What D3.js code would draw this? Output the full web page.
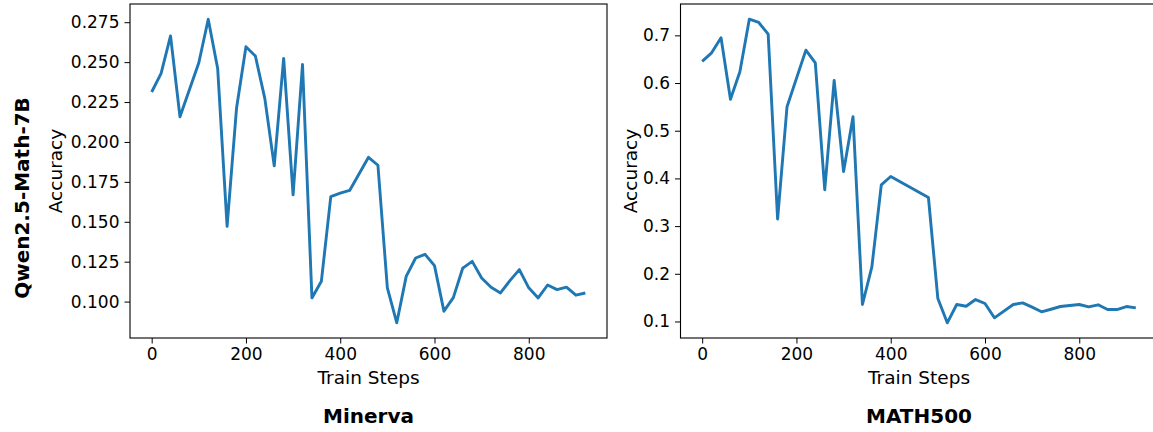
<!DOCTYPE html>
<html>
<head>
<meta charset="utf-8">
<script src="https://cdn.jsdelivr.net/npm/d3@7"></script>
<style>
  html, body { margin: 0; padding: 0; background: #fff; }
  svg { display: block; }
  text { font-family: "DejaVu Sans", sans-serif; fill: #000; }
</style>
</head>
<body>
<svg id="chart" width="1153" height="432"></svg>
<script>
// Training steps at which each benchmark was evaluated
const minervaSteps = [0, 20, 40, 60, 100, 120, 140, 160, 180, 200, 220, 240, 260, 280, 300, 320, 340, 360, 380, 400,
  420, 460, 480, 500, 520, 540, 560, 580, 600, 620, 640, 660, 680, 700, 720, 740, 760, 780, 800, 820, 840, 860, 880, 900, 920];
const minervaAcc = [0.2313, 0.2429, 0.2664, 0.2158, 0.2496, 0.2769, 0.2460, 0.1471, 0.2211, 0.2596, 0.2538, 0.2273, 0.1850, 0.2523, 0.1669, 0.2485, 0.1023, 0.1127, 0.1658, 0.1679,
  0.1696, 0.1904, 0.1854, 0.1086, 0.0867, 0.1158, 0.1273, 0.1296, 0.1225, 0.0940, 0.1025, 0.1210, 0.1252, 0.1148, 0.1090, 0.1054, 0.1131, 0.1200, 0.1086, 0.1023, 0.1104, 0.1075, 0.1090, 0.1040, 0.1054];

const math500Steps = [0, 20, 40, 60, 80, 100, 120, 140, 160, 180, 220, 240, 260, 280, 300, 320, 340, 360, 380, 400,
  480, 500, 520, 540, 560, 580, 600, 620, 660, 680, 700, 720, 740, 760, 780, 800, 820, 840, 860, 880, 900, 920];
const math500Acc = [0.6454, 0.6634, 0.6948, 0.5659, 0.6237, 0.7339, 0.7270, 0.7025, 0.3148, 0.5504, 0.6690, 0.6425, 0.3762, 0.6056, 0.4145, 0.5295, 0.1356, 0.2144, 0.3866, 0.4040,
  0.3600, 0.1481, 0.0972, 0.1356, 0.1320, 0.1460, 0.1377, 0.1077, 0.1356, 0.1390, 0.1300, 0.1203, 0.1257, 0.1314, 0.1335, 0.1356, 0.1307, 0.1350, 0.1251, 0.1251, 0.1314, 0.1286];

const xTicks = [0, 200, 400, 600, 800];
const minervaYTicks = [0.100, 0.125, 0.150, 0.175, 0.200, 0.225, 0.250, 0.275];
const math500YTicks = [0.1, 0.2, 0.3, 0.4, 0.5, 0.6, 0.7];

const panels = [
  { title: "Minerva", steps: minervaSteps, acc: minervaAcc, yTicks: minervaYTicks, fmt: ".3f", left: 130, accX: 55 },
  { title: "MATH500", steps: math500Steps, acc: math500Acc, yTicks: math500YTicks, fmt: ".1f", left: 680.5, accX: 630 }
];

const svg = d3.select("#chart");
const plotTop = 4, plotBottom = 338, panelW = 477;
const lineColor = "#1f77b4";

// axis limits padded by 5% of the data range on each side
function padded(values) {
  const [lo, hi] = d3.extent(values);
  const m = (hi - lo) * 0.05;
  return [lo - m, hi + m];
}

panels.forEach(p => {
  const x = d3.scaleLinear().domain(padded(p.steps)).range([p.left, p.left + panelW]);
  const y = d3.scaleLinear().domain(padded(p.acc)).range([plotBottom, plotTop]);

  const g = svg.append("g");

  // x axis
  const xAxis = g.append("g")
    .attr("transform", `translate(0,${plotBottom})`)
    .call(d3.axisBottom(x).tickValues(xTicks).tickSize(5.5).tickPadding(4).tickFormat(d3.format("d")));
  xAxis.select(".domain").remove();
  xAxis.selectAll("line").attr("stroke", "#000").attr("stroke-width", 1);
  xAxis.selectAll("text").attr("font-size", 17).attr("fill", "#000")
    .attr("font-family", "DejaVu Sans, sans-serif");

  // y axis
  const yAxis = g.append("g")
    .attr("transform", `translate(${p.left},0)`)
    .call(d3.axisLeft(y).tickValues(p.yTicks).tickSize(5.5).tickPadding(5).tickFormat(d3.format(p.fmt)));
  yAxis.select(".domain").remove();
  yAxis.selectAll("line").attr("stroke", "#000").attr("stroke-width", 1);
  yAxis.selectAll("text").attr("font-size", 17).attr("fill", "#000")
    .attr("font-family", "DejaVu Sans, sans-serif");

  // accuracy curve
  const line = d3.line().x((d, i) => x(p.steps[i])).y(d => y(d));
  g.append("path")
    .datum(p.acc)
    .attr("d", line)
    .attr("fill", "none")
    .attr("stroke", lineColor)
    .attr("stroke-width", 2.9)
    .attr("stroke-linejoin", "round")
    .attr("stroke-linecap", "butt");

  // axes frame
  g.append("rect")
    .attr("x", p.left).attr("y", plotTop)
    .attr("width", panelW).attr("height", plotBottom - plotTop)
    .attr("fill", "none").attr("stroke", "#000").attr("stroke-width", 1.1);

  // axis labels
  const cx = p.left + panelW / 2;
  g.append("text")
    .attr("x", cx).attr("y", 384)
    .attr("text-anchor", "middle").attr("font-size", 18.5)
    .text("Train Steps");
  g.append("text")
    .attr("transform", `translate(${p.accX},${(plotTop + plotBottom) / 2}) rotate(-90)`)
    .attr("text-anchor", "middle").attr("dominant-baseline", "central").attr("font-size", 18.5)
    .text("Accuracy");

  // benchmark title beneath the panel
  g.append("text")
    .attr("x", cx).attr("y", 423)
    .attr("text-anchor", "middle").attr("font-size", 20).attr("font-weight", "bold")
    .text(p.title);
});

// model name along the left edge
svg.append("text")
  .attr("transform", "translate(22,198) rotate(-90)")
  .attr("text-anchor", "middle").attr("dominant-baseline", "central")
  .attr("font-size", 20).attr("font-weight", "bold")
  .text("Qwen2.5-Math-7B");
</script>
</body>
</html>
